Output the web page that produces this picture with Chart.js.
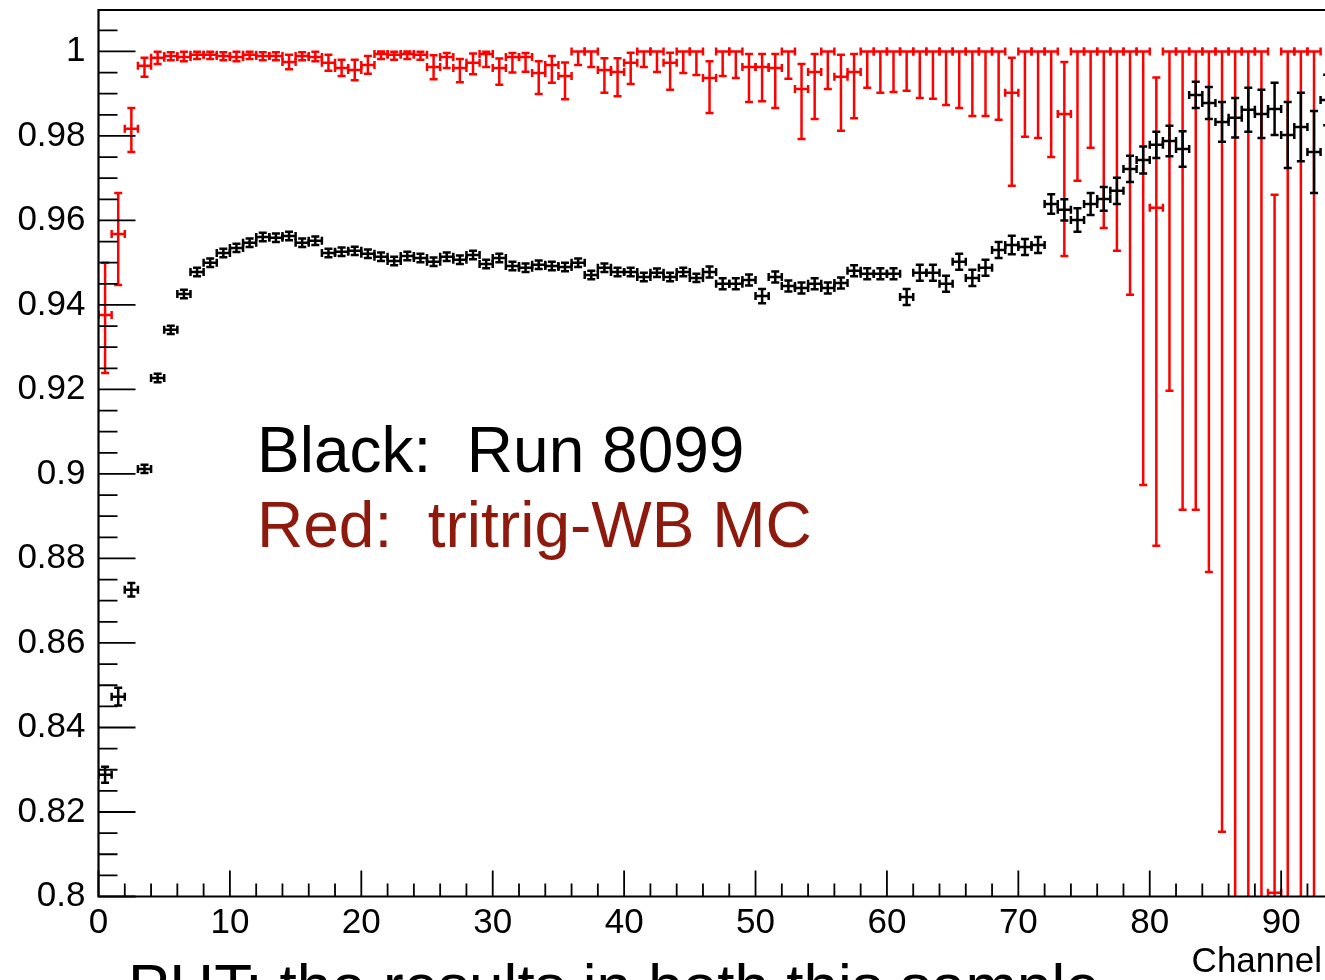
<!DOCTYPE html>
<html>
<head>
<meta charset="utf-8">
<title>Channel efficiency</title>
<script src="https://cdn.jsdelivr.net/npm/chart.js@4.4.0/dist/chart.umd.min.js"></script>
<style>
  html, body { margin: 0; padding: 0; background: #fff; overflow: hidden; }
  #wrap { position: relative; width: 1325px; height: 980px; overflow: hidden; }
  #chart { position: absolute; left: 0; top: 0; width: 1400px; height: 980px; }
  .note { position: absolute; font-family: "Liberation Sans", Arial, sans-serif; white-space: pre; line-height: 1; }
</style>
</head>
<body>
<div id="wrap">
  <canvas id="chart" width="1400" height="980"></canvas>
  <div class="note" style="left:257px; top:418px; font-size:64px; color:#000;">Black:  Run 8099</div>
  <div class="note" style="left:257px; top:493px; font-size:64px; color:#8e1a0e;">Red:  tritrig-WB MC</div>
  <div class="note" style="right:3px; top:942px; font-size:35px; color:#000;">Channel</div>
  <div class="note" style="left:128px; top:955px; font-size:62px; color:#000;">PHT: the results in both this sample</div>
</div>
<script>
// bin centres (channel)
const binCenter = [
  0.5, 1.5, 2.5, 3.5, 4.5, 5.5, 6.5, 7.5, 8.5, 9.5,
  10.5, 11.5, 12.5, 13.5, 14.5, 15.5, 16.5, 17.5, 18.5, 19.5,
  20.5, 21.5, 22.5, 23.5, 24.5, 25.5, 26.5, 27.5, 28.5, 29.5,
  30.5, 31.5, 32.5, 33.5, 34.5, 35.5, 36.5, 37.5, 38.5, 39.5,
  40.5, 41.5, 42.5, 43.5, 44.5, 45.5, 46.5, 47.5, 48.5, 49.5,
  50.5, 51.5, 52.5, 53.5, 54.5, 55.5, 56.5, 57.5, 58.5, 59.5,
  60.5, 61.5, 62.5, 63.5, 64.5, 65.5, 66.5, 67.5, 68.5, 69.5,
  70.5, 71.5, 72.5, 73.5, 74.5, 75.5, 76.5, 77.5, 78.5, 79.5,
  80.5, 81.5, 82.5, 83.5, 84.5, 85.5, 86.5, 87.5, 88.5, 89.5,
  90.5, 91.5, 92.5, 93.5
];
const binHalfWidth = 0.5;

// Black: Run 8099
const blackVal = [
  0.8288, 0.8473, 0.8726, 0.9012, 0.9227, 0.9341, 0.9426, 0.9478, 0.9500, 0.9523,
  0.9535, 0.9547, 0.9561, 0.9559, 0.9563, 0.9547, 0.9552, 0.9523, 0.9526, 0.9528,
  0.9521, 0.9514, 0.9504, 0.9516, 0.9511, 0.9502, 0.9514, 0.9507, 0.9518, 0.9497,
  0.9511, 0.9492, 0.9488, 0.9495, 0.9492, 0.9490, 0.9500, 0.9471, 0.9488, 0.9478,
  0.9478, 0.9466, 0.9476, 0.9466, 0.9478, 0.9464, 0.9478, 0.9450, 0.9450, 0.9459,
  0.9421, 0.9466, 0.9445, 0.9440, 0.9450, 0.9440, 0.9452, 0.9481, 0.9474, 0.9474,
  0.9474, 0.9419, 0.9476, 0.9476, 0.9450, 0.9502, 0.9464, 0.9488, 0.9530, 0.9542,
  0.9537, 0.9542, 0.9639, 0.9625, 0.9601, 0.9639, 0.9651, 0.9670, 0.9722, 0.9743,
  0.9779, 0.9788, 0.9769, 0.9897, 0.9878, 0.9833, 0.9843, 0.9862, 0.9852, 0.9864,
  0.9802, 0.9821, 0.9762, 0.9885
];
const blackErr = [
  0.0019, 0.0021, 0.0016, 0.0010, 0.0010, 0.0010, 0.0010, 0.0010, 0.0010, 0.0010,
  0.0010, 0.0010, 0.0010, 0.0010, 0.0010, 0.0010, 0.0010, 0.0010, 0.0010, 0.0010,
  0.0010, 0.0010, 0.0010, 0.0010, 0.0010, 0.0010, 0.0010, 0.0010, 0.0010, 0.0010,
  0.0010, 0.0010, 0.0010, 0.0010, 0.0010, 0.0010, 0.0010, 0.0010, 0.0010, 0.0010,
  0.0010, 0.0010, 0.0010, 0.0010, 0.0010, 0.0010, 0.0013, 0.0013, 0.0013, 0.0013,
  0.0017, 0.0013, 0.0013, 0.0013, 0.0013, 0.0013, 0.0013, 0.0013, 0.0013, 0.0013,
  0.0013, 0.0019, 0.0019, 0.0019, 0.0019, 0.0019, 0.0019, 0.0019, 0.0019, 0.0022,
  0.0019, 0.0019, 0.0023, 0.0025, 0.0028, 0.0026, 0.0028, 0.0031, 0.0031, 0.0032,
  0.0031, 0.0036, 0.0042, 0.0031, 0.0038, 0.0047, 0.0047, 0.0052, 0.0057, 0.0062,
  0.0078, 0.0081, 0.0097, 0.0060
];

// Red: tritrig-WB MC (asymmetric errors)
const redVal = [
  0.9376, 0.9568, 0.9817, 0.9966, 0.9985, 0.9989, 0.9987, 0.9992, 0.9992, 0.9989,
  0.9987, 0.9992, 0.9989, 0.9989, 0.9975, 0.9989, 0.9987, 0.9973, 0.9961, 0.9956,
  0.9968, 0.9994, 0.9992, 0.9994, 0.9992, 0.9963, 0.9987, 0.9961, 0.9973, 0.9994,
  0.9961, 0.9987, 0.9987, 0.9949, 0.9968, 0.9942, 1.0000, 1.0000, 0.9956, 0.9951,
  0.9973, 1.0000, 1.0000, 0.9973, 1.0000, 1.0000, 0.9937, 1.0000, 1.0000, 0.9963,
  0.9963, 0.9961, 1.0000, 0.9911, 0.9951, 1.0000, 0.9940, 0.9951, 1.0000, 1.0000,
  1.0000, 1.0000, 1.0000, 1.0000, 1.0000, 1.0000, 1.0000, 1.0000, 1.0000, 0.9902,
  1.0000, 1.0000, 1.0000, 0.9852, 1.0000, 1.0000, 1.0000, 1.0000, 1.0000, 1.0000,
  0.9630, 1.0000, 1.0000, 1.0000, 1.0000, 1.0000, 1.0000, 1.0000, 1.0000, 0.8009,
  1.0000, 1.0000, 1.0000
];
const redErrLow = [
  0.0137, 0.0121, 0.0055, 0.0026, 0.0015, 0.0010, 0.0010, 0.0010, 0.0010, 0.0010,
  0.0010, 0.0010, 0.0010, 0.0010, 0.0017, 0.0010, 0.0010, 0.0019, 0.0019, 0.0024,
  0.0021, 0.0012, 0.0012, 0.0012, 0.0012, 0.0029, 0.0026, 0.0034, 0.0027, 0.0031,
  0.0040, 0.0037, 0.0035, 0.0050, 0.0042, 0.0055, 0.0032, 0.0037, 0.0054, 0.0057,
  0.0050, 0.0037, 0.0049, 0.0064, 0.0051, 0.0056, 0.0083, 0.0058, 0.0063, 0.0083,
  0.0081, 0.0095, 0.0065, 0.0118, 0.0111, 0.0089, 0.0128, 0.0109, 0.0086, 0.0098,
  0.0096, 0.0093, 0.0110, 0.0112, 0.0127, 0.0134, 0.0153, 0.0153, 0.0162, 0.0220,
  0.0202, 0.0205, 0.0250, 0.0336, 0.0306, 0.0228, 0.0418, 0.0472, 0.0576, 0.1026,
  0.0800, 0.0803, 0.1085, 0.1085, 0.1232, 0.1847, 0.2500, 0.2500, 0.2500, 0.2000,
  0.2500, 0.2500, 0.2500
];
const redErrHigh = [
  0.0124, 0.0097, 0.0049, 0.0019, 0.0014, 0.0009, 0.0012, 0.0007, 0.0007, 0.0009,
  0.0012, 0.0007, 0.0009, 0.0009, 0.0017, 0.0009, 0.0012, 0.0019, 0.0019, 0.0024,
  0.0021, 0.0006, 0.0007, 0.0006, 0.0007, 0.0028, 0.0009, 0.0021, 0.0022, 0.0005,
  0.0022, 0.0009, 0.0009, 0.0028, 0.0021, 0.0032, 0.0000, 0.0000, 0.0028, 0.0033,
  0.0024, 0.0000, 0.0000, 0.0024, 0.0000, 0.0000, 0.0040, 0.0000, 0.0000, 0.0031,
  0.0031, 0.0033, 0.0000, 0.0059, 0.0043, 0.0000, 0.0052, 0.0043, 0.0000, 0.0000,
  0.0000, 0.0000, 0.0000, 0.0000, 0.0000, 0.0000, 0.0000, 0.0000, 0.0000, 0.0083,
  0.0000, 0.0000, 0.0000, 0.0123, 0.0000, 0.0000, 0.0000, 0.0000, 0.0000, 0.0000,
  0.0308, 0.0000, 0.0000, 0.0000, 0.0000, 0.0000, 0.0000, 0.0000, 0.0000, 0.1652,
  0.0000, 0.0000, 0.0000
];

const yTickLabels = ['0.8', '0.82', '0.84', '0.86', '0.88', '0.9', '0.92', '0.94', '0.96', '0.98', '1'];

function points(vals, lo, hi) {
  return vals.map((v, i) => ({ x: binCenter[i], y: v, xe: binHalfWidth, lo: lo[i], hi: hi[i] }));
}

// draws ROOT-style error crosses with end caps, clipped to the frame
const errorBars = {
  id: 'errorBars',
  afterDatasetsDraw(chart) {
    const { ctx, chartArea: a, scales: { x, y } } = chart;
    ctx.save();
    ctx.beginPath();
    ctx.rect(a.left, a.top, a.right - a.left, a.bottom - a.top);
    ctx.clip();
    chart.data.datasets.forEach(ds => {
      ctx.strokeStyle = ds.borderColor;
      ctx.lineWidth = 2.5;
      ds.data.forEach(p => {
        const px = x.getPixelForValue(p.x);
        const py = y.getPixelForValue(p.y);
        const xl = x.getPixelForValue(p.x - p.xe);
        const xr = x.getPixelForValue(p.x + p.xe);
        const yb = y.getPixelForValue(p.y - p.lo);
        const yt = y.getPixelForValue(p.y + p.hi);
        ctx.beginPath();
        ctx.moveTo(xl, py); ctx.lineTo(xr, py);
        ctx.moveTo(xl, py - 4); ctx.lineTo(xl, py + 4);
        ctx.moveTo(xr, py - 4); ctx.lineTo(xr, py + 4);
        ctx.moveTo(px, yb); ctx.lineTo(px, yt);
        ctx.moveTo(px - 4, yb); ctx.lineTo(px + 4, yb);
        ctx.moveTo(px - 4, yt); ctx.lineTo(px + 4, yt);
        ctx.stroke();
      });
    });
    ctx.restore();
  }
};

// frame plus inward ticks like ROOT
const frameTicks = {
  id: 'frameTicks',
  afterDraw(chart) {
    const { ctx, chartArea: a, scales: { x, y } } = chart;
    ctx.save();
    ctx.strokeStyle = '#000';
    ctx.lineWidth = 2.2;
    ctx.beginPath();
    ctx.moveTo(a.right, a.top); ctx.lineTo(a.left, a.top);
    ctx.lineTo(a.left, a.bottom); ctx.lineTo(a.right, a.bottom);
    ctx.stroke();
    ctx.lineWidth = 1.8;
    ctx.beginPath();
    for (let k = 0; ; k++) {
      const v = 0.8 + k * 0.005;
      if (v > y.max) break;
      const py = y.getPixelForValue(v);
      const len = k % 4 === 0 ? 37 : 19;
      ctx.moveTo(a.left, py); ctx.lineTo(a.left + len, py);
    }
    for (let k = 0; ; k++) {
      const v = k * 2;
      if (v > x.max) break;
      const px = x.getPixelForValue(v);
      const len = k % 5 === 0 ? 26 : 13;
      ctx.moveTo(px, a.bottom); ctx.lineTo(px, a.bottom - len);
    }
    ctx.stroke();
    ctx.restore();
  }
};

Chart.defaults.font.family = '"Liberation Sans", Arial, sans-serif';
Chart.defaults.color = '#000';

new Chart(document.getElementById('chart'), {
  type: 'scatter',
  data: {
    datasets: [
      {
        label: 'tritrig-WB MC',
        data: points(redVal, redErrLow, redErrHigh),
        borderColor: '#ff0000',
        pointRadius: 0,
        showLine: false,
      },
      {
        label: 'Run 8099',
        data: points(blackVal, blackErr, blackErr),
        borderColor: '#000000',
        pointRadius: 0,
        showLine: false,
      },
    ],
  },
  options: {
    responsive: false,
    animation: false,
    events: [],
    layout: { padding: { top: 10, right: 40, left: 0, bottom: 0 } },
    plugins: {
      legend: { display: false },
      tooltip: { enabled: false },
    },
    scales: {
      x: {
        type: 'linear',
        min: 0,
        max: 96,
        grid: { display: false },
        border: { display: false },
        afterFit(scale) {
          scale.height = 83.5;
          scale.paddingLeft = 0;
          scale.paddingRight = 0;
        },
        ticks: {
          stepSize: 10,
          autoSkip: false,
          includeBounds: false,
          maxRotation: 0,
          padding: -2,
          font: { size: 35 },
          callback: v => String(v),
        },
      },
      y: {
        type: 'linear',
        min: 0.8,
        max: 1.0098,
        grid: { display: false },
        border: { display: false },
        afterFit(scale) {
          scale.width = 98.5;
          scale.paddingTop = 0;
          scale.paddingBottom = 0;
        },
        afterBuildTicks(scale) {
          scale.ticks = yTickLabels.map(t => ({ value: parseFloat(t) }));
        },
        ticks: {
          autoSkip: false,
          padding: 5,
          font: { size: 35 },
          callback: (v, i) => yTickLabels[i],
        },
      },
    },
  },
  plugins: [errorBars, frameTicks],
});
</script>
</body>
</html>
